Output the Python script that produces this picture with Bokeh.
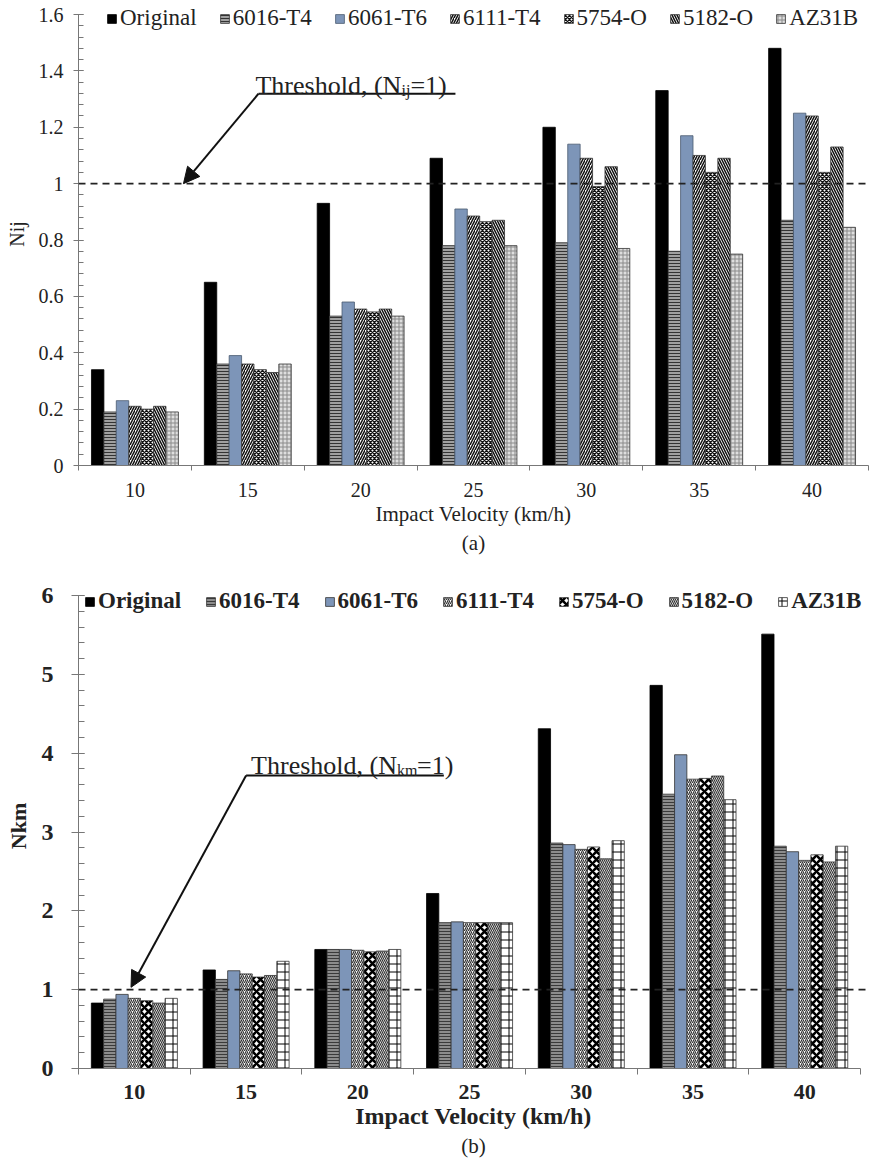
from bokeh.plotting import figure
from bokeh.layouts import column
from bokeh.models import (ColumnDataSource, Range1d, FixedTicker, NumeralTickFormatter,
                          Span, Label, Arrow, NormalHead, Title)
from bokeh.transform import dodge
from bokeh.embed import file_html
from bokeh.resources import INLINE

# ---------------- data ----------------
velocities = ["10", "15", "20", "25", "30", "35", "40"]
materials = ["Original", "6016-T4", "6061-T6", "6111-T4", "5754-O", "5182-O", "AZ31B"]

nij_original = [0.34, 0.65, 0.93, 1.09, 1.20, 1.33, 1.48]
nij_6016_t4 = [0.19, 0.36, 0.53, 0.78, 0.79, 0.76, 0.87]
nij_6061_t6 = [0.23, 0.39, 0.58, 0.91, 1.14, 1.17, 1.25]
nij_6111_t4 = [0.21, 0.36, 0.555, 0.885, 1.09, 1.10, 1.24]
nij_5754_o = [0.20, 0.34, 0.545, 0.865, 0.99, 1.04, 1.04]
nij_5182_o = [0.21, 0.33, 0.555, 0.87, 1.06, 1.09, 1.13]
nij_az31b = [0.19, 0.36, 0.53, 0.78, 0.77, 0.75, 0.845]

nkm_original = [0.83, 1.25, 1.51, 2.22, 4.31, 4.86, 5.51]
nkm_6016_t4 = [0.88, 1.13, 1.51, 1.85, 2.86, 3.48, 2.82]
nkm_6061_t6 = [0.94, 1.24, 1.51, 1.86, 2.84, 3.98, 2.75]
nkm_6111_t4 = [0.89, 1.20, 1.50, 1.85, 2.78, 3.67, 2.64]
nkm_5754_o = [0.86, 1.16, 1.48, 1.85, 2.81, 3.68, 2.71]
nkm_5182_o = [0.83, 1.18, 1.49, 1.85, 2.66, 3.71, 2.62]
nkm_az31b = [0.89, 1.36, 1.51, 1.85, 2.89, 3.41, 2.82]

nij_ticks = [0, 0.2, 0.4, 0.6, 0.8, 1.0, 1.2, 1.4, 1.6]
nkm_ticks = [0, 1, 2, 3, 4, 5, 6]
threshold = 1.0

FONT = "Liberation Serif"
BLUE = "#7d95b8"

styles_a = [
    dict(fill_color="black", line_color="black"),
    dict(fill_color="#a0a0a0", hatch_pattern="horizontal_line", hatch_color="#333333", hatch_scale=3, hatch_weight=1),
    dict(fill_color=BLUE, line_color="#4a5a70"),
    dict(fill_color="white", hatch_pattern="right_diagonal_line", hatch_color="#111111", hatch_scale=5, hatch_weight=1.5),
    dict(fill_color="white", hatch_pattern="diagonal_cross", hatch_color="#111111", hatch_scale=4, hatch_weight=1.4),
    dict(fill_color="white", hatch_pattern="left_diagonal_line", hatch_color="#111111", hatch_scale=5, hatch_weight=1.5),
    dict(fill_color="#dedede", hatch_pattern="cross", hatch_color="#8a8a8a", hatch_scale=4, hatch_weight=1),
]
styles_b = [
    dict(fill_color="black", line_color="black"),
    dict(fill_color="#8c8c8c", hatch_pattern="horizontal_line", hatch_color="#3a3a3a", hatch_scale=3, hatch_weight=1),
    dict(fill_color=BLUE, line_color="#333333"),
    dict(fill_color="white", hatch_pattern="right_diagonal_line", hatch_color="#333333", hatch_scale=4, hatch_weight=1.2),
    dict(fill_color="white", hatch_pattern="diagonal_cross", hatch_color="black", hatch_scale=8, hatch_weight=2.6),
    dict(fill_color="white", hatch_pattern="left_diagonal_line", hatch_color="#333333", hatch_scale=4, hatch_weight=1.2),
    dict(fill_color="white", hatch_pattern="cross", hatch_color="black", hatch_scale=8, hatch_weight=1),
]


def make_chart(series, styles, height, borders, x_end, y_max, y_end, y_ticks, y_minor_step,
               y_fmt, y_label, caption, caption_offset, legend_loc, legend_spacing, bold,
               sizes, tick_cfg, ann):
    n = len(velocities)
    p = figure(width=870, height=height, output_backend="svg", toolbar_location=None,
               x_range=Range1d(0, x_end), y_range=Range1d(0, y_end),
               min_border_top=borders[0], min_border_right=borders[1],
               min_border_bottom=borders[2], min_border_left=borders[3])
    p.outline_line_color = None
    p.grid.visible = False
    p.background_fill_color = "white"
    p.border_fill_color = "white"

    data = dict(xc=[i + 0.5 for i in range(n)])
    for m, vals in zip(materials, series):
        data[m] = vals
    src = ColumnDataSource(data)

    bw = 0.11
    k = len(materials)
    for j, (m, st) in enumerate(zip(materials, styles)):
        kw = dict(line_color="#333333", line_width=0.8)
        kw.update(st)
        p.vbar(x=dodge("xc", (j - (k - 1) / 2) * bw), top=m, width=bw, source=src,
               legend_label=m, **kw)

    weight = "bold" if bold else "normal"

    # threshold line
    p.add_layout(Span(location=threshold, dimension="width", line_color="#222222",
                      line_dash="7 5", line_width=1.6))

    # x axis: labels at group centres, ticks at group boundaries
    centers = [i + 0.5 for i in range(n)]
    xa = p.xaxis[0]
    xa.ticker = FixedTicker(ticks=centers, minor_ticks=list(range(n + 1)))
    xa.major_label_overrides = {c: v for c, v in zip(centers, velocities)}
    xa.bounds = (0, n)
    xa.major_tick_out = 0
    xa.major_tick_in = 0
    xa.minor_tick_out = tick_cfg["x_out"]
    xa.minor_tick_in = 0
    xa.minor_tick_line_color = "#777777"
    xa.axis_line_color = "#777777"
    xa.major_label_standoff = tick_cfg["x_standoff"]
    xa.major_label_text_font = FONT
    xa.major_label_text_font_size = sizes["tick"]
    xa.major_label_text_font_style = weight
    xa.major_label_text_color = "#222222"
    xa.axis_label = "Impact Velocity (km/h)"
    xa.axis_label_text_font = FONT
    xa.axis_label_text_font_size = sizes["title"]
    xa.axis_label_text_font_style = weight
    xa.axis_label_text_color = "#222222"
    xa.axis_label_standoff = tick_cfg["x_title_standoff"]

    ya = p.yaxis[0]
    minor = []
    v = 0.0
    while v <= y_max + 1e-9:
        minor.append(round(v, 4))
        v += y_minor_step
    ya.ticker = FixedTicker(ticks=y_ticks, minor_ticks=minor)
    ya.formatter = NumeralTickFormatter(format=y_fmt)
    ya.bounds = (0, y_max)
    ya.major_tick_in = tick_cfg["y_in"]
    ya.major_tick_out = tick_cfg["y_out"]
    ya.minor_tick_in = tick_cfg["y_in"]
    ya.minor_tick_out = 0
    ya.axis_line_color = "#777777"
    ya.major_tick_line_color = "#777777"
    ya.minor_tick_line_color = "#777777"
    ya.major_label_standoff = tick_cfg["y_standoff"]
    ya.major_label_text_font = FONT
    ya.major_label_text_font_size = sizes["ytick"]
    ya.major_label_text_font_style = weight
    ya.major_label_text_color = "#222222"
    ya.axis_label = y_label
    ya.axis_label_text_font = FONT
    ya.axis_label_text_font_size = sizes["ylabel"]
    ya.axis_label_text_font_style = weight
    ya.axis_label_text_color = "#222222"
    ya.axis_label_standoff = tick_cfg["y_title_standoff"]

    # caption
    p.add_layout(Title(text=caption, align="center", offset=caption_offset,
                       text_font=FONT, text_font_size=sizes["caption"],
                       text_font_style="normal", text_color="#222222", standoff=0), "below")

    # legend
    lg = p.legend[0]
    lg.orientation = "horizontal"
    lg.location = legend_loc
    lg.spacing = legend_spacing
    lg.padding = 0
    lg.margin = 0
    lg.border_line_color = None
    lg.background_fill_alpha = 0
    lg.glyph_width = 11
    lg.glyph_height = 11
    lg.label_standoff = 3
    lg.label_height = 20
    lg.label_text_font = FONT
    lg.label_text_font_size = sizes["legend"]
    lg.label_text_font_style = weight
    lg.label_text_color = "#222222"

    # threshold annotation
    fs_main, fs_sub, w_main, w_sub = ann["fs_main"], ann["fs_sub"], ann["w_main"], ann["w_sub"]
    common = dict(text_font=FONT, text_color="#222222", text_baseline="alphabetic",
                  text_align="left", x=ann["text_x"], y=ann["text_y"])
    p.add_layout(Label(text="Threshold, (N", text_font_size=f"{fs_main}px", **common))
    p.add_layout(Label(text=ann["sub"], text_font_size=f"{fs_sub}px", x_offset=w_main,
                       y_offset=-5, **common))
    p.add_layout(Label(text="=1)", text_font_size=f"{fs_main}px", x_offset=w_main + w_sub,
                       **common))
    p.line(x=[ann["line_x0"], ann["line_x1"]], y=[ann["line_y"], ann["line_y"]],
           line_color="#111111", line_width=2)
    p.add_layout(Arrow(end=NormalHead(size=16, fill_color="#111111", line_color="#111111"),
                       x_start=ann["line_x0"], y_start=ann["line_y"],
                       x_end=ann["tip_x"], y_end=ann["tip_y"],
                       line_color="#111111", line_width=2))
    return p


p_a = make_chart(
    [nij_original, nij_6016_t4, nij_6061_t6, nij_6111_t4, nij_5754_o, nij_5182_o, nij_az31b],
    styles_a, height=575, borders=(2, 2, 110, 78), x_end=7, y_max=1.6, y_end=1.6 * 463 / 451,
    y_ticks=nij_ticks, y_minor_step=0.04, y_fmt="0.[0]", y_label="Nij", caption="(a)",
    caption_offset=-38, legend_loc=(28, 434), legend_spacing=22, bold=False,
    sizes=dict(tick="20px", ytick="20px", title="21px", ylabel="20px", caption="21px",
               legend="23px"),
    tick_cfg=dict(x_out=5, x_standoff=12, x_title_standoff=2, y_in=5, y_out=5,
                  y_standoff=10, y_title_standoff=8),
    ann=dict(fs_main=26, fs_sub=16, w_main=146, w_sub=9, sub="ij",
             text_x=1.568, text_y=1.348, line_x0=1.595, line_x1=3.34, line_y=1.319,
             tip_x=0.93, tip_y=1.0))

p_b = make_chart(
    [nkm_original, nkm_6016_t4, nkm_6061_t6, nkm_6111_t4, nkm_5754_o, nkm_5182_o, nkm_az31b],
    styles_b, height=598, borders=(8, 2, 105, 67), x_end=7 * 801 / 793, y_max=6,
    y_end=6 * 485 / 473, y_ticks=nkm_ticks, y_minor_step=0.2, y_fmt="0", y_label="Nkm",
    caption="(b)", caption_offset=-34, legend_loc=(6, 454), legend_spacing=24, bold=True,
    sizes=dict(tick="22px", ytick="24px", title="24px", ylabel="22px", caption="21px",
               legend="23px"),
    tick_cfg=dict(x_out=6, x_standoff=10, x_title_standoff=1, y_in=6, y_out=7,
                  y_standoff=18, y_title_standoff=8),
    ann=dict(fs_main=26, fs_sub=16, w_main=146, w_sub=20, sub="km",
             text_x=1.545, text_y=3.84, line_x0=1.50, line_x1=3.27, line_y=3.717,
             tip_x=0.47, tip_y=1.03))

layout = column(p_a, p_b, spacing=0)
open("out.html", "w").write(file_html(layout, INLINE))
